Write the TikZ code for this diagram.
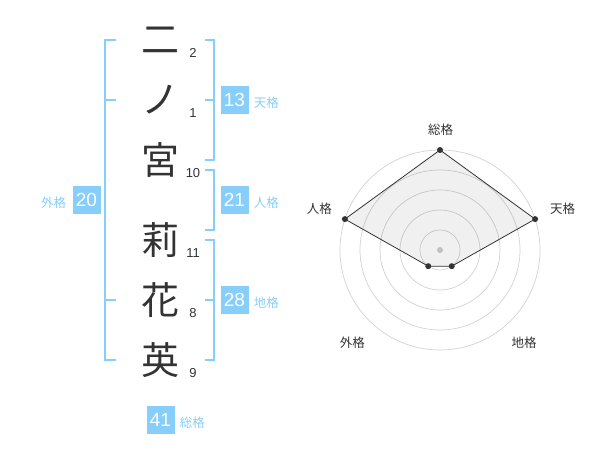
\documentclass[tikz,border=0pt]{standalone}
\usepackage{fontspec}
\setmainfont{Noto Sans CJK JP}
\newfontfamily\numfont{Liberation Sans}
\usetikzlibrary{positioning}

\definecolor{skyline}{HTML}{87CEFA}
\definecolor{inkgray}{HTML}{333333}

\tikzset{
  kanji/.style={font=\fontsize{38}{38}\selectfont, text=inkgray, inner sep=0pt},
  strokes/.style={font=\numfont\fontsize{13}{13}\selectfont, text=inkgray, inner sep=0pt},
  scorebox/.style={fill=skyline, text=white, minimum size=28pt, inner sep=0pt,
    font=\numfont\fontsize{19}{19}\selectfont},
  scorelabel/.style={text=skyline, font=\fontsize{12.5}{12.5}\selectfont, inner sep=0pt},
  bracket/.style={draw=skyline, line width=2pt},
  ring/.style={draw=gray!35, line width=0.7pt},
  axislabel/.style={text=inkgray, font=\fontsize{12.5}{12.5}\selectfont, inner sep=0pt},
}

\begin{document}
\begin{tikzpicture}[x=1pt, y=-1pt]
\useasboundingbox (0,0) rectangle (600,470);

% name and stroke counts
\foreach \ch/\y/\n [count=\i] in {二/40/2, ノ/100/1, 宮/160/10, 莉/240/11, 花/300/8, 英/360/9} {
  \node[kanji] (k\i) at (160,\y) {\ch};
  \node[strokes] (s\i) at (193,\y+13) {\n};
}

% brackets
\draw[bracket] (116,40) -- (105,40) -- (105,360) -- (116,360);
\draw[bracket] (105,100) -- (116,100);
\draw[bracket] (105,300) -- (116,300);

\draw[bracket] (205,40) -- (214,40) -- (214,160) -- (205,160);
\draw[bracket] (205,100) -- (214,100);
\draw[bracket] (205,170) -- (214,170) -- (214,230) -- (205,230);
\draw[bracket] (205,240) -- (214,240) -- (214,360) -- (205,360);
\draw[bracket] (205,300) -- (214,300);

% scores
\node[scorebox] (ten) at (234.5,100) {13};
\node[scorebox] (jin) at (234.5,200) {21};
\node[scorebox] (chi) at (234.5,300) {28};
\node[scorebox] (gai) at (86.5,200) {20};
\node[scorebox] (sou) at (160.5,419.5) {41};

\node[scorelabel, right=5pt of ten, yshift=-3pt] (tenl) {天格};
\node[scorelabel, right=5pt of jin, yshift=-3pt] (jinl) {人格};
\node[scorelabel, right=5pt of chi, yshift=-3pt] (chil) {地格};
\node[scorelabel, left=6pt of gai, yshift=-3pt] (gail) {外格};
\node[scorelabel, right=5pt of sou, yshift=-3pt] (soul) {総格};

% radar
\begin{scope}[shift={(440,250)}, y=1pt]
  \foreach \r in {20,40,60,80,100}
    \draw[ring] (0,0) circle (\r);
  \fill[gray!40] (0,0) circle (3);

  \coordinate (psou) at (90:100);
  \coordinate (pten) at (18:100);
  \coordinate (pchi) at (-54:20);
  \coordinate (pgai) at (-126:20);
  \coordinate (pjin) at (162:100);

  \fill[black, fill opacity=0.06] (psou) -- (pten) -- (pchi) -- (pgai) -- (pjin) -- cycle;
  \draw[inkgray, line width=0.8pt] (psou) -- (pten) -- (pchi) -- (pgai) -- (pjin) -- cycle;
  \foreach \p in {psou,pten,pchi,pgai,pjin}
    \fill[inkgray] (\p) circle (3);

  \node[axislabel] (asou) at (0.7,120) {総格};
  \node[axislabel] (aten) at (122.7,41) {天格};
  \node[axislabel] (ajin) at (-120.7,41) {人格};
  \node[axislabel] (agai) at (-87.7,-92.3) {外格};
  \node[axislabel] (achi) at (84,-92.3) {地格};
\end{scope}
\end{tikzpicture}
\end{document}
